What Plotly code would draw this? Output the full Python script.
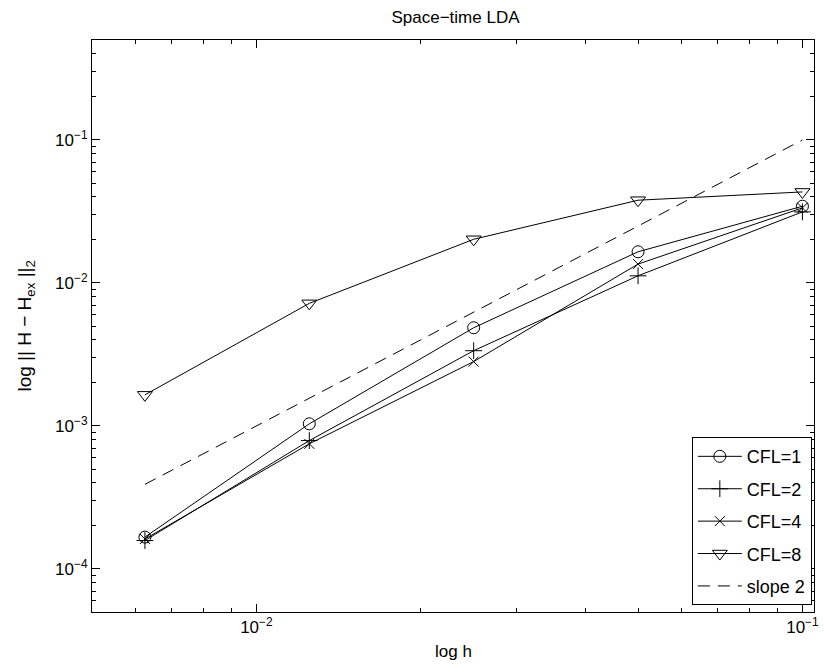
import numpy as np
import plotly.graph_objects as go

# ---- data ----
h = [0.00625, 0.0125, 0.025, 0.05, 0.1]
err_cfl1 = [1.67e-4, 1.035e-3, 4.86e-3, 1.652e-2, 3.44e-2]
err_cfl2 = [1.58e-4, 7.9e-4, 3.36e-3, 1.122e-2, 3.14e-2]
err_cfl4 = [1.62e-4, 7.5e-4, 2.82e-3, 1.355e-2, 3.35e-2]
err_cfl8 = [1.65e-3, 7.2e-3, 2.02e-2, 3.79e-2, 4.33e-2]
slope_h = [0.00625, 0.1]
slope_err = [10 * x ** 2 for x in slope_h]

x_ticks = [0.01, 0.1]
x_ticktext = ["10<sup>−2</sup>", "10<sup>−1</sup>"]
y_ticks = [1e-4, 1e-3, 1e-2, 1e-1]
y_ticktext = ["10<sup>−4</sup>", "10<sup>−3</sup>", "10<sup>−2</sup>", "10<sup>−1</sup>"]

FONT = "Liberation Sans, Arial, Helvetica, sans-serif"
FS = 17

fig = go.Figure()
series = [
    ("CFL=1", err_cfl1, "circle-open", 12),
    ("CFL=2", err_cfl2, "cross-thin-open", 12),
    ("CFL=4", err_cfl4, "x-thin-open", 10),
    ("CFL=8", err_cfl8, "triangle-down-open", 13),
]
for name, ys, sym, sz in series:
    fig.add_trace(go.Scatter(
        x=h, y=ys, name=name, mode="lines+markers", legendgroup=name,
        line=dict(color="black", width=1),
        marker=dict(symbol=sym, size=sz, color="black",
                    line=dict(color="black", width=1)),
    ))
fig.add_trace(go.Scatter(
    x=slope_h, y=slope_err, name="slope 2", mode="lines", legendgroup="slope",
    line=dict(color="black", width=1, dash="12px,8px"),
))

x_minor = [m * 10.0 ** e for e in (-3, -2, -1) for m in range(2, 10)
           if 0.005 <= m * 10.0 ** e <= 0.105]
y_minor = [m * 10.0 ** e for e in (-5, -4, -3, -2, -1) for m in range(2, 10)
           if 5e-5 <= m * 10.0 ** e <= 0.5]

axis_common = dict(
    type="log", showgrid=False, zeroline=False, showline=True,
    linecolor="black", linewidth=1, mirror="ticks", ticks="inside",
    ticklen=8, tickcolor="black", tickwidth=1,
    tickfont=dict(family=FONT, size=FS, color="black"),
)
fig.update_xaxes(
    **axis_common,
    range=[np.log10(0.005), np.log10(0.105)],
    tickvals=x_ticks, ticktext=x_ticktext,
    minor=dict(tickvals=x_minor, ticks="inside", ticklen=4,
               tickcolor="black", showgrid=False),
)
fig.update_yaxes(
    **axis_common,
    range=[np.log10(5e-5), np.log10(0.5)],
    tickvals=y_ticks, ticktext=y_ticktext,
    minor=dict(tickvals=y_minor, ticks="inside", ticklen=4,
               tickcolor="black", showgrid=False),
)

fig.update_layout(
    width=824, height=672,
    margin=dict(l=92, r=5, t=39.5, b=59.5),
    paper_bgcolor="white", plot_bgcolor="white",
    font=dict(family=FONT, size=FS, color="black"),
    title=dict(text="Space−time LDA", x=(92 + 819) / 2 / 824, xanchor="center",
               y=1 - 17 / 672, yanchor="middle", yref="container",
               font=dict(family=FONT, size=FS, color="black")),
    showlegend=True,
    legend=dict(x=0.997, y=0.012, xanchor="right", yanchor="bottom",
                bgcolor="white", bordercolor="black", borderwidth=1,
                tracegroupgap=6, itemwidth=44,
                font=dict(family=FONT, size=18, color="black")),
    annotations=[
        dict(text="log h", xref="paper", yref="paper", x=0.5, y=-0.069,
             xanchor="center", yanchor="middle", showarrow=False,
             font=dict(family=FONT, size=FS, color="black")),
        dict(text="log || H − H<sub>ex</sub> ||<sub>2</sub>", xref="paper",
             yref="paper", x=-0.092, y=0.5, xanchor="center", yanchor="middle",
             textangle=-90, showarrow=False,
             font=dict(family=FONT, size=19, color="black")),
    ],
)

fig.write_html("out.html")
